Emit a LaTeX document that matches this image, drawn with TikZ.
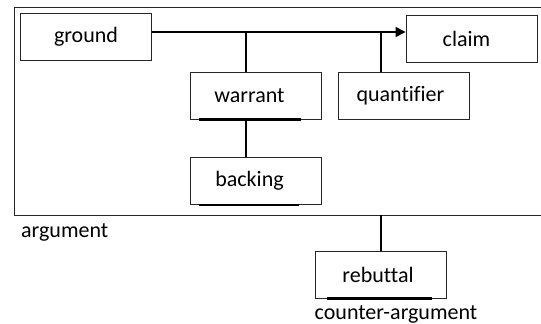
\documentclass[tikz,border=0pt]{standalone}
\usepackage{fontspec}
\setmainfont{Carlito}[Ligatures=NoCommon]
\usetikzlibrary{arrows.meta}
\newcommand{\lsh}[2]{#1\hspace*{#2pt}}
\begin{document}
\begin{tikzpicture}[x=1pt,y=-1pt,
  box/.style={draw=black!85,line width=0.9pt,minimum width=#1,minimum height=47pt,inner sep=0pt,font=\fontsize{22}{26}\selectfont},
  box/.default=131pt,
  conn/.style={line width=1.4pt},
  lbl/.style={inner sep=0pt,font=\fontsize{22}{26}\selectfont}]
\useasboundingbox (0,0) rectangle (541,324);
\draw[line width=1pt,black!85] (541,7) -- (14,7) -- (14,215) -- (541,215);
\node[box] (ground) at (86,36.5) {ground};
\node[box] (claim) at (471.5,39) {\lsh{claim}{10}};
\node[box] (warrant) at (255.5,95.5) {\lsh{warrant}{12}};
\node[box] (quant) at (403.5,96) {\lsh{quantifier}{6}};
\node[box] (backing) at (255.5,181) {\lsh{backing}{12}};
\node[box] (rebuttal) at (381,274.5) {\lsh{rebuttal}{6}};
\coordinate (wj) at (246,32);
\coordinate (qj) at (381,32);
\coordinate (rj) at (381,215);
\draw[conn,-{Triangle[length=10pt,width=10pt]}] (ground.east |- wj) -- (claim.west |- wj);
\draw[conn] (wj) -- (wj |- warrant.north);
\draw[conn] (qj) -- (qj |- quant.north);
\draw[conn] (wj |- warrant.south) -- (wj |- backing.north);
\draw[conn] (rj) -- (rj |- rebuttal.north);
\draw[line width=2.2pt] ([xshift=9pt]warrant.south west) -- ([xshift=-20pt]warrant.south east);
\draw[line width=2.2pt] ([xshift=9pt]backing.south west) -- ([xshift=-22pt]backing.south east);
\draw[line width=2.2pt] ([xshift=12pt]rebuttal.south west) -- ([xshift=-15pt]rebuttal.south east);
\node[lbl,anchor=west] (arg) at (21,232) {argument};
\node[lbl] (carg) at (396,314.5) {counter-argument};
\end{tikzpicture}
\end{document}
